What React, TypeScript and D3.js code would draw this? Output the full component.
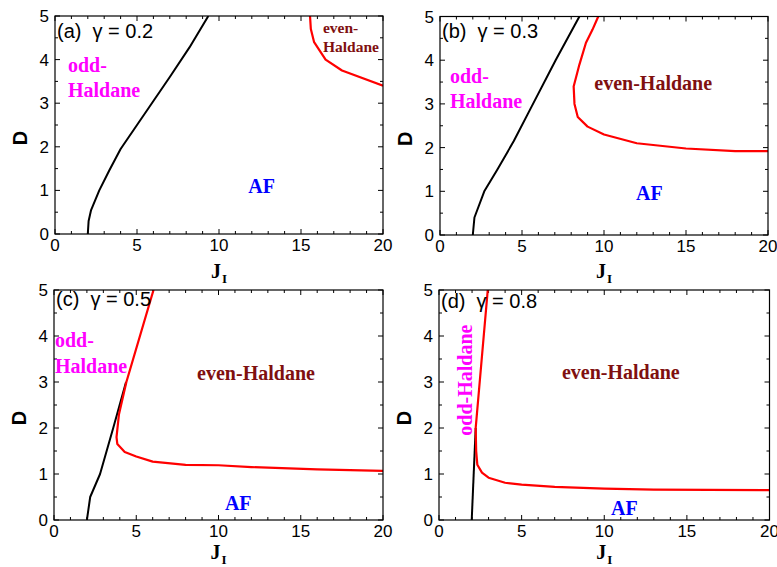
import React from "react";
import * as d3 from "d3";

type Pt = [number, number];

// ---------- data (J_I, D) ----------
const xTicks = [0, 5, 10, 15, 20];
const yTicks = [0, 1, 2, 3, 4, 5];

const blackA: Pt[] = [[2, 0], [2.05, 0.3], [2.2, 0.55], [2.7, 1.0], [3.3, 1.45], [4.0, 1.95], [5, 2.5], [6, 3.05], [7, 3.6], [8.2, 4.28], [9.35, 5]];
const redA: Pt[] = [[15.55, 5], [15.6, 4.7], [15.8, 4.4], [16.5, 4.0], [17.5, 3.75], [20, 3.4]];

const blackB: Pt[] = [[2, 0], [2.1, 0.4], [2.7, 1.0], [3.5, 1.5], [4.5, 2.15], [5.6, 2.95], [7.05, 4.0], [8.5, 5]];
const redB: Pt[] = [[9.65, 5], [9.3, 4.7], [8.9, 4.4], [8.5, 3.9], [8.15, 3.4], [8.2, 3.0], [8.4, 2.7], [9, 2.48], [10, 2.3], [12, 2.1], [15, 1.98], [18, 1.92], [20, 1.92]];

const blackC: Pt[] = [[2, 0], [2.2, 0.5], [2.8, 1.0], [3.6, 2.0], [4.38, 3.0]];
const redC: Pt[] = [[6.05, 5], [4.4, 3.0], [3.95, 2.3], [3.8, 1.8], [3.85, 1.65], [4.3, 1.48], [5, 1.38], [6, 1.27], [8, 1.2], [10, 1.19], [12, 1.15], [16, 1.1], [20, 1.07]];

const blackD: Pt[] = [[1.98, 0], [2.22, 2.0]];
const redD: Pt[] = [[2.95, 5], [2.22, 2.0], [2.25, 1.5], [2.32, 1.2], [2.6, 1.03], [3.0, 0.92], [4, 0.81], [5, 0.77], [7, 0.72], [10, 0.68], [13, 0.66], [20, 0.65]];

const titles = ["(a)  \u03b3 = 0.2", "(b)  \u03b3 = 0.3", "(c)  \u03b3 = 0.5", "(d)  \u03b3 = 0.8"];

// ---------- styles ----------
const SANS = "'Liberation Sans', Arial, Helvetica, sans-serif";
const SERIF = "'Liberation Serif', 'Times New Roman', serif";
const MAGENTA = "#ff00ff";
const BLUE = "#0000ff";
const DARKRED = "#7f1010";

type Label = { text: string[]; j: number; d: number; color: string; size: number; anchor: string; rotate?: boolean; lh?: number };

type PanelDef = {
  l: number; r: number; t: number; b: number;
  black: Pt[]; red: Pt[]; title: string; titleDy: number; jDy: number;
  labels: Label[];
};

const panels: PanelDef[] = [
  {
    l: 55, r: 383, t: 16, b: 234, black: blackA, red: redA, title: titles[0], titleDy: 22, jDy: 44,
    labels: [
      { text: ["odd-", "Haldane"], j: 0.79, d: 3.72, color: MAGENTA, size: 20, anchor: "start", lh: 25 },
      { text: ["AF"], j: 12.6, d: 0.94, color: BLUE, size: 20, anchor: "middle" },
      { text: ["even-", "Haldane"], j: 16.34, d: 4.61, color: DARKRED, size: 15.5, anchor: "start", lh: 18.5 },
    ],
  },
  {
    l: 440, r: 768, t: 16.5, b: 235, black: blackB, red: redB, title: titles[1], titleDy: 21.5, jDy: 43,
    labels: [
      { text: ["odd-", "Haldane"], j: 0.61, d: 3.48, color: MAGENTA, size: 20, anchor: "start", lh: 25 },
      { text: ["even-Haldane"], j: 13.0, d: 3.32, color: DARKRED, size: 20, anchor: "middle" },
      { text: ["AF"], j: 12.77, d: 0.8, color: BLUE, size: 20, anchor: "middle" },
    ],
  },
  {
    l: 54, r: 383, t: 290, b: 520, black: blackC, red: redC, title: titles[2], titleDy: 15.5, jDy: 39,
    labels: [
      { text: ["odd-", "Haldane"], j: 0.06, d: 3.77, color: MAGENTA, size: 20, anchor: "start", lh: 26 },
      { text: ["even-Haldane"], j: 12.28, d: 3.04, color: DARKRED, size: 20, anchor: "middle" },
      { text: ["AF"], j: 11.2, d: 0.22, color: BLUE, size: 20, anchor: "middle" },
    ],
  },
  {
    l: 439, r: 769.5, t: 290, b: 520, black: blackD, red: redD, title: titles[3], titleDy: 18, jDy: 39,
    labels: [
      { text: ["odd-Haldane"], j: 2.0, d: 3.04, color: MAGENTA, size: 20, anchor: "middle", rotate: true },
      { text: ["even-Haldane"], j: 11.0, d: 3.07, color: DARKRED, size: 20, anchor: "middle" },
      { text: ["AF"], j: 11.22, d: 0.11, color: BLUE, size: 20, anchor: "middle" },
    ],
  },
];

function Panel({ p, id }: { p: PanelDef; id: number }) {
  const x = d3.scaleLinear().domain([0, 20]).range([p.l, p.r]);
  const y = d3.scaleLinear().domain([0, 5]).range([p.b, p.t]);
  const line = d3.line<Pt>().x((v) => x(v[0])).y((v) => y(v[1]));
  const xMinor = d3.range(0, 21, 1);
  const yMinor = d3.range(0, 5.01, 0.5);
  const major = 5;
  const minor = 3;
  const clipId = `clip${id}`;
  const cx = (p.l + p.r) / 2;
  return (
    <g>
      <defs>
        <clipPath id={clipId}>
          <rect x={p.l} y={p.t} width={p.r - p.l} height={p.b - p.t} />
        </clipPath>
      </defs>
      {/* ticks */}
      {xMinor.map((v) => {
        const isMajor = v % 5 === 0;
        const len = isMajor ? major : minor;
        return (
          <g key={"xt" + v} stroke="#000" strokeWidth={1}>
            <line x1={x(v)} x2={x(v)} y1={p.b} y2={p.b - len} />
            <line x1={x(v)} x2={x(v)} y1={p.t} y2={p.t + len} />
          </g>
        );
      })}
      {yMinor.map((v) => {
        const isMajor = Math.abs(v - Math.round(v)) < 1e-6;
        const len = isMajor ? major : minor;
        return (
          <g key={"yt" + v} stroke="#000" strokeWidth={1}>
            <line x1={p.l} x2={p.l + len} y1={y(v)} y2={y(v)} />
            <line x1={p.r} x2={p.r - len} y1={y(v)} y2={y(v)} />
          </g>
        );
      })}
      {/* curves */}
      <g clipPath={`url(#${clipId})`}>
        <path d={line(p.black) || ""} fill="none" stroke="#000" strokeWidth={2} strokeLinejoin="round" />
        <path d={line(p.red) || ""} fill="none" stroke="#ff0000" strokeWidth={2.2} strokeLinejoin="round" />
      </g>
      {/* frame */}
      <rect x={p.l} y={p.t} width={p.r - p.l} height={p.b - p.t} fill="none" stroke="#000" strokeWidth={1.2} />
      {/* tick labels */}
      {xTicks.map((v) => (
        <text key={"xl" + v} x={x(v)} y={p.b + 17} textAnchor="middle" fontFamily={SANS} fontSize={17} fill="#000">
          {v}
        </text>
      ))}
      {yTicks.map((v) => (
        <text key={"yl" + v} x={p.l - 6} y={y(v) + 6} textAnchor="end" fontFamily={SANS} fontSize={17} fill="#000">
          {v}
        </text>
      ))}
      {/* axis titles */}
      <text
        transform={`translate(${p.l - 35},${(p.t + p.b) / 2 + 13}) rotate(-90)`}
        textAnchor="middle"
        dominantBaseline="central"
        fontFamily={SANS}
        fontWeight="bold"
        fontSize={20}
        fill="#000"
      >
        D
      </text>
      <text x={cx + 2} y={p.b + p.jDy} textAnchor="end" fontFamily={SERIF} fontWeight="bold" fontSize={20} fill="#000">
        J
      </text>
      <text x={cx + 3} y={p.b + p.jDy + 5} textAnchor="start" fontFamily={SERIF} fontWeight="bold" fontSize={13} fill="#000">
        I
      </text>
      {/* panel title */}
      <text x={p.l + 2} y={p.t + p.titleDy} fontFamily={SANS} fontSize={20} fill="#000" style={{ whiteSpace: "pre" }}>
        {p.title}
      </text>
      {/* region labels */}
      {p.labels.map((lb, i) =>
        lb.rotate ? (
          <text
            key={"lb" + i}
            transform={`translate(${x(lb.j)},${y(lb.d)}) rotate(-90)`}
            textAnchor={lb.anchor}
            fontFamily={SERIF}
            fontWeight="bold"
            fontSize={lb.size}
            fill={lb.color}
          >
            {lb.text[0]}
          </text>
        ) : (
          <text key={"lb" + i} x={x(lb.j)} y={y(lb.d)} textAnchor={lb.anchor} fontFamily={SERIF} fontWeight="bold" fontSize={lb.size} fill={lb.color}>
            {lb.text.map((t, k) => (
              <tspan key={k} x={x(lb.j)} dy={k === 0 ? 0 : lb.lh}>
                {t}
              </tspan>
            ))}
          </text>
        )
      )}
    </g>
  );
}

export default function App() {
  return (
    <svg width={777} height={567} style={{ position: "absolute", left: 0, top: 0, background: "#fff" }}>
      <rect width={777} height={567} fill="#fff" />
      {panels.map((p, i) => (
        <Panel key={i} p={p} id={i} />
      ))}
    </svg>
  );
}
